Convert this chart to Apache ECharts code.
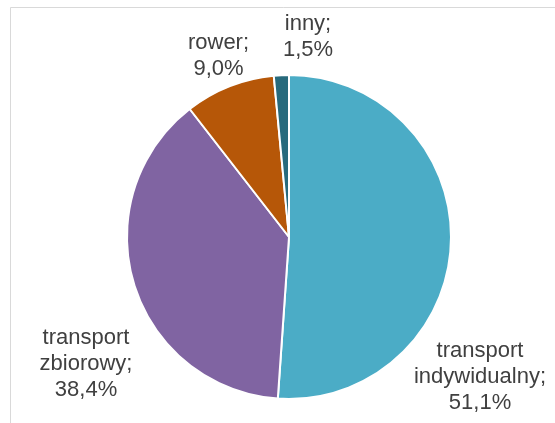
<!DOCTYPE html>
<html>
<head>
<meta charset="utf-8">
<script src="https://cdn.jsdelivr.net/npm/echarts@6/dist/echarts.min.js"></script>
<style>
html,body{margin:0;padding:0;background:#fff;}
#chart{width:555px;height:423px;}
</style>
</head>
<body>
<div id="chart"></div>
<script>
const categories = ['transport indywidualny', 'transport zbiorowy', 'rower', 'inny'];
const shares = [51.1, 38.4, 9.0, 1.5];
const sliceColors = ['#4BACC6', '#8064A2', '#B65708', '#276A7C'];

const cx = 289, cy = 237, radius = 162;
const labelOffsets = [[191, 140], [-203, 126.5], [-70.5, -181], [19, -200]];

const chart = echarts.init(document.getElementById('chart'), null, {renderer: 'canvas'});
chart.setOption({
  animation: false,
  backgroundColor: '#ffffff',
  graphic: [{
    type: 'rect',
    shape: {x: 10.5, y: 7.5, width: 700, height: 600},
    style: {fill: 'none', stroke: '#D9D9D9', lineWidth: 1},
    silent: true,
    z: -1
  }],
  series: [{
    type: 'pie',
    center: [cx, cy],
    radius: radius,
    startAngle: 90,
    clockwise: true,
    data: categories.map((c, i) => ({name: c, value: shares[i], itemStyle: {color: sliceColors[i]}})),
    itemStyle: {borderColor: '#ffffff', borderWidth: 2},
    label: {
      show: true,
      position: 'outside',
      color: '#404040',
      fontFamily: 'Liberation Sans',
      fontSize: 22,
      lineHeight: 26,
      width: 200,
      overflow: 'none',
      align: 'center',
      formatter: p => p.name.replace(' ', '\n') + ';\n' + p.value.toFixed(1).replace('.', ',') + '%'
    },
    labelLine: {show: false},
    labelLayout: function (params) {
      const o = labelOffsets[params.dataIndex];
      return {x: cx + o[0], y: cy + o[1], align: 'center', verticalAlign: 'middle'};
    },
    emphasis: {disabled: true}
  }]
});
</script>
</body>
</html>
